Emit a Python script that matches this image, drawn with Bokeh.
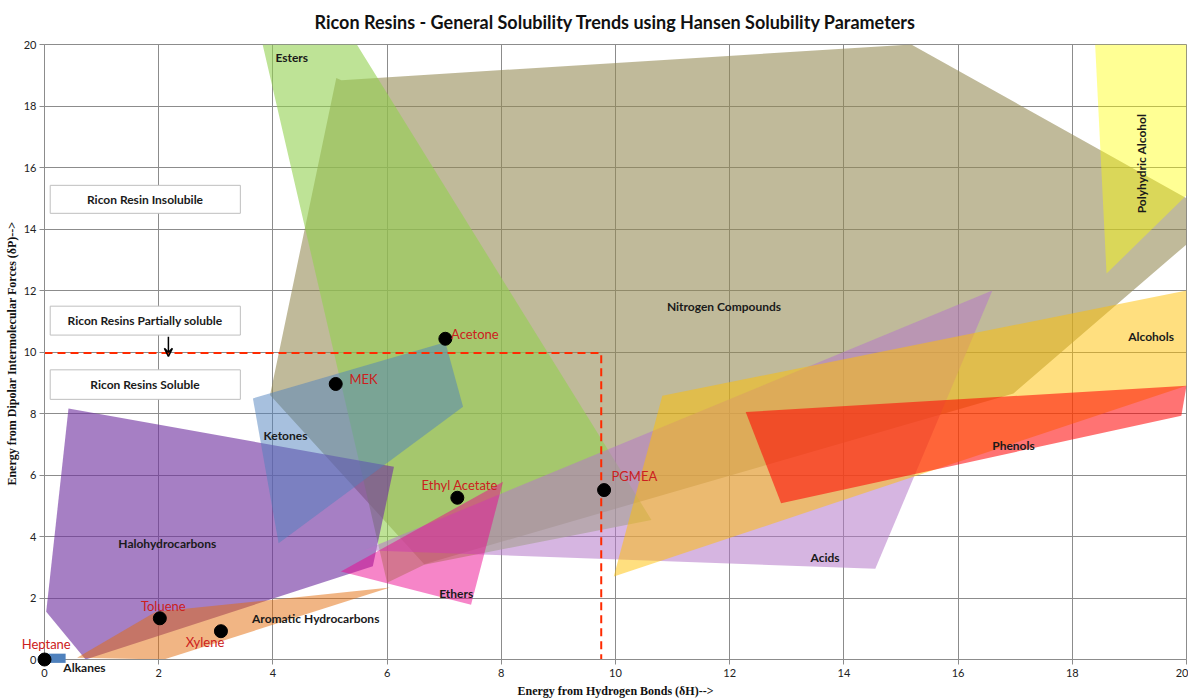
from math import pi
from bokeh.plotting import figure
from bokeh.models import ColumnDataSource, Arrow, VeeHead, Range1d, FixedTicker
from bokeh.core.properties import value
from bokeh.embed import file_html
from bokeh.resources import INLINE

# ---------------- data ----------------
x_ticks = [0, 2, 4, 6, 8, 10, 12, 14, 16, 18, 20]
y_ticks = [0, 2, 4, 6, 8, 10, 12, 14, 16, 18, 20]

regions = ["Nitrogen Compounds", "Esters", "Halohydrocarbons", "Ketones", "Acids",
           "Alcohols", "Phenols", "Polyhydric Alcohol", "Ethers", "Aromatic Hydrocarbons"]

nitrogen_x = [3.95, 5.11, 5.2, 15.18, 20.0, 20.0, 16.97, 6.65]
nitrogen_y = [8.6, 18.91, 18.84, 20.0, 15.0, 13.5, 8.65, 3.1]
esters_x = [3.82, 5.47, 10.63, 6.65, 6.0]
esters_y = [20.0, 20.0, 4.54, 3.08, 2.5]
halo_x = [0.42, 6.12, 5.75, 0.72, 0.03]
halo_y = [8.16, 6.27, 3.03, 0.0, 1.55]
ketones_x = [3.65, 7.02, 7.33, 4.1]
ketones_y = [8.49, 10.32, 8.22, 3.78]
acids_x = [5.6, 16.6, 14.55]
acids_y = [3.55, 12.0, 2.95]
alcohols_x = [9.97, 10.82, 20.0, 20.0]
alcohols_y = [2.7, 8.58, 12.0, 8.9]
phenols_x = [12.28, 20.0, 19.91, 12.9]
phenols_y = [8.05, 8.9, 7.93, 5.08]
polyhydric_x = [18.4, 20.0, 20.0, 18.6]
polyhydric_y = [20.0, 20.0, 15.1, 12.55]
ethers_x = [5.19, 8.03, 7.47]
ethers_y = [2.86, 5.78, 1.78]
aromatic_x = [0.57, 1.95, 6.05, 2.09]
aromatic_y = [0.06, 1.55, 2.34, 0.0]
alkanes_x = [0.035, 0.37]
alkanes_y = [-0.11, 0.19]

solvents = ["Heptane", "Toluene", "Xylene", "MEK", "Acetone", "Ethyl Acetate", "PGMEA"]
solvent_dh = [0.0, 2.02, 3.09, 5.1, 7.02, 7.23, 9.8]
solvent_dp = [0.0, 1.34, 0.92, 8.96, 10.43, 5.26, 5.51]

soluble_limit_dh = 9.75
soluble_limit_dp = 9.97

# ---------------- figure ----------------
p = figure(width=1188, height=700, x_range=Range1d(0, 20), y_range=Range1d(0, 20),
           output_backend="svg", toolbar_location=None,
           min_border_left=44, min_border_right=2, min_border_top=44, min_border_bottom=40,
           background_fill_color="white", border_fill_color="white")

p.title.text = "Ricon Resins - General Solubility Trends using Hansen Solubility Parameters"
p.title.align = "center"
p.title.vertical_align = "top"
p.title.text_font = "Lato"
p.title.text_font_size = "18px"
p.title.text_font_style = "bold"
p.title.text_color = "#111111"
p.title.standoff = 20

p.outline_line_color = "#8C8C8C"

for ax in (p.xaxis, p.yaxis):
    ax.axis_line_color = "#8C8C8C"
    ax.major_tick_line_color = "#8C8C8C"
    ax.major_tick_out = 5
    ax.major_tick_in = 0
    ax.minor_tick_line_color = None
    ax.major_label_text_font = "Lato"
    ax.major_label_text_font_size = "11px"
    ax.major_label_text_color = "#222222"
    ax.axis_label_text_font = "Liberation Serif"
    ax.axis_label_text_font_size = "12px"
    ax.axis_label_text_font_style = "bold"
    ax.axis_label_text_color = "#111111"

p.xaxis.ticker = FixedTicker(ticks=x_ticks)
p.yaxis.ticker = FixedTicker(ticks=y_ticks)
p.xaxis.axis_label = "Energy from Hydrogen Bonds (δH)-->"
p.xaxis.major_label_standoff = 4
p.xaxis.axis_label_standoff = 4
p.yaxis.axis_label = "Energy  from Dipolar Intermolecular Forces (δP)-->"
p.yaxis.axis_label_standoff = 2
p.yaxis.major_label_standoff = 3

p.grid.grid_line_color = "#8C8C8C"
p.grid.grid_line_width = 1
p.xgrid.ticker = FixedTicker(ticks=x_ticks)
p.ygrid.ticker = FixedTicker(ticks=y_ticks)

# ---------------- regions ----------------
region_xs = [nitrogen_x, esters_x, halo_x, ketones_x, acids_x,
             alcohols_x, phenols_x, polyhydric_x, ethers_x, aromatic_x]
region_ys = [nitrogen_y, esters_y, halo_y, ketones_y, acids_y,
             alcohols_y, phenols_y, polyhydric_y, ethers_y, aromatic_y]
region_colors = ["#948A54", "#92D050", "#7030A0", "#4F81BD", "#B478C8",
                 "#FFC000", "#FF0000", "#FFFF00", "#EC008C", "#E46C0A"]
region_alphas = [0.59, 0.6, 0.62, 0.5, 0.55, 0.5, 0.55, 0.42, 0.48, 0.5]

p.patches(xs="xs", ys="ys", fill_color="color", fill_alpha="alpha", line_color=None,
          source=ColumnDataSource(dict(xs=region_xs, ys=region_ys, color=region_colors,
                                       alpha=region_alphas)))

# alkanes bar (drawn across the axis)
p.quad(left=[alkanes_x[0]], right=[alkanes_x[1]], bottom=[alkanes_y[0]], top=[alkanes_y[1]],
       fill_color="#4F81BD", line_color=None, level="overlay")

# region labels
label_pos = {
    "Nitrogen Compounds": (11.9, 11.49, 0),
    "Esters": (4.33, 19.59, 0),
    "Halohydrocarbons": (2.15, 3.76, 0),
    "Ketones": (4.22, 7.28, 0),
    "Acids": (13.67, 3.32, 0),
    "Alcohols": (19.38, 10.52, 0),
    "Phenols": (16.97, 6.95, 0),
    "Polyhydric Alcohol": (19.22, 16.13, pi / 2),
    "Ethers": (7.21, 2.16, 0),
    "Aromatic Hydrocarbons": (4.75, 1.34, 0),
    "Alkanes": (0.7, -0.27, 0),
}
names = list(label_pos.keys())
p.text(x=[label_pos[n][0] for n in names], y=[label_pos[n][1] for n in names],
       text=names, angle=[label_pos[n][2] for n in names],
       text_font=value("Lato"), text_font_size="12px", text_font_style="bold",
       text_color="#1A1A1A", text_align="center", text_baseline="middle", level="overlay")

# ---------------- solubility limit ----------------
p.line(x=[0, soluble_limit_dh, soluble_limit_dh], y=[soluble_limit_dp, soluble_limit_dp, 0],
       line_color="#FF2A00", line_width=2, line_dash="8 5")

# ---------------- info boxes ----------------
box_texts = ["Ricon Resin Insolubile", "Ricon Resins Partially soluble", "Ricon Resins Soluble"]
box_bottom = [14.51, 10.55, 8.46]
box_top = [15.42, 11.49, 9.42]
p.quad(left=[0.1] * 3, right=[3.43] * 3, bottom=box_bottom, top=box_top,
       fill_color="white", line_color="#BFBFBF", line_width=1)
p.text(x=[1.76] * 3, y=[(b + t) / 2 for b, t in zip(box_bottom, box_top)], text=box_texts,
       text_font=value("Lato"), text_font_size="12px", text_font_style="bold",
       text_color="#1A1A1A", text_align="center", text_baseline="middle")

p.add_layout(Arrow(end=VeeHead(size=8, line_color="black", line_width=1.5, fill_color=None),
                   x_start=2.17, y_start=10.5, x_end=2.17, y_end=9.86,
                   line_color="black", line_width=1.5))

# ---------------- solvents ----------------
p.scatter(x=solvent_dh, y=solvent_dp, size=13, fill_color="black", line_color="black",
          level="overlay")

lab_dx = [0.03, 0.06, -0.28, 0.24, 0.1, 0.04, 0.13]
lab_dy = [0.5, 0.41, -0.35, 0.15, 0.16, 0.42, 0.47]
lab_align = ["center", "center", "center", "left", "left", "center", "left"]
p.text(x=[a + b for a, b in zip(solvent_dh, lab_dx)], y=[a + b for a, b in zip(solvent_dp, lab_dy)],
       text=solvents, text_align=lab_align,
       text_font=value("Lato"), text_font_size="13px", text_color="#CC2020",
       text_baseline="middle", level="overlay")

open("out.html", "w").write(file_html(p, INLINE))
